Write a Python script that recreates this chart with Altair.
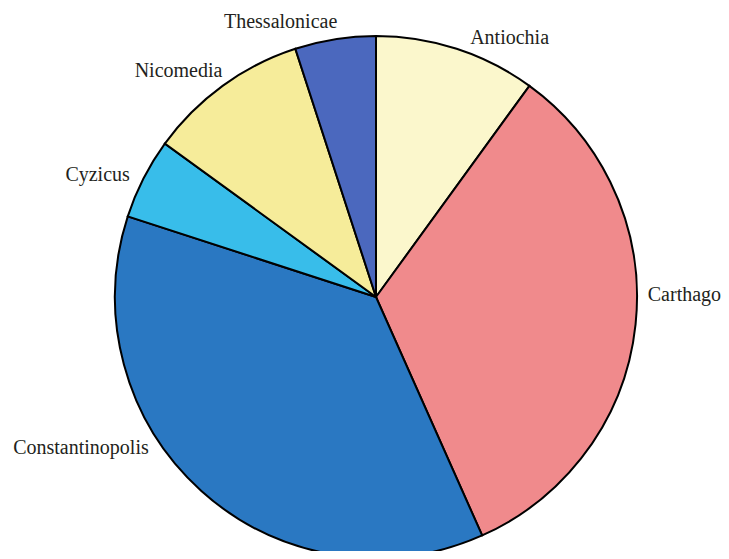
import altair as alt
import pandas as pd
import math

cities = ["Antiochia", "Carthago", "Constantinopolis", "Cyzicus", "Nicomedia", "Thessalonicae"]
values = [6, 20, 22, 3, 6, 3]
colors = ["#FBF7CC", "#F08A8C", "#2A78C2", "#38BDEA", "#F6EC9A", "#4B68BE"]

df = pd.DataFrame({"city": cities, "value": values, "order": list(range(len(cities)))})

CX, CY, R = 368, 289, 261
LABEL_R = 290
# per-label nudges (style only)
nudges = {
    "Antiochia": (44, 17),
    "Carthago": (20, -32),
    "Constantinopolis": (-101, -65),
    "Cyzicus": (-20, 10),
    "Nicomedia": (-27, 9),
    "Thessalonicae": (-50, 11),
}

pie = alt.Chart(df).mark_arc(outerRadius=R, stroke="black", strokeWidth=2).encode(
    theta=alt.Theta("value:Q", stack=True),
    order=alt.Order("order:Q"),
    color=alt.Color("city:N", scale=alt.Scale(domain=cities, range=colors), legend=None),
    x=alt.value(CX),
    y=alt.value(CY),
)

lab_base = alt.Chart(df).transform_window(
    cum="sum(value)", sort=[alt.SortField("order")], frame=[None, 0]
).transform_joinaggregate(
    total="sum(value)"
).transform_calculate(
    frac="(datum.cum - datum.value / 2) / datum.total"
)

layers = [pie]
for c in cities:
    dx, dy = nudges[c]
    layers.append(
        lab_base.transform_filter(alt.datum.city == c).mark_text(
            radius=LABEL_R, dx=dx, dy=dy, font="Liberation Serif", fontSize=20,
            color="#231F20", align="center", baseline="middle",
        ).encode(
            text="city:N",
            theta=alt.Theta("frac:Q", scale=alt.Scale(domain=[0, 1], range=[0, 2 * math.pi])),
            x=alt.value(CX),
            y=alt.value(CY),
        )
    )

chart = alt.layer(*layers).resolve_scale(theta="independent").properties(
    width=713, height=543, padding=0, autosize=alt.AutoSizeParams(type="none")
).configure_view(stroke=None)

chart.save("out.html", embed_options={"renderer": "svg", "actions": False})
